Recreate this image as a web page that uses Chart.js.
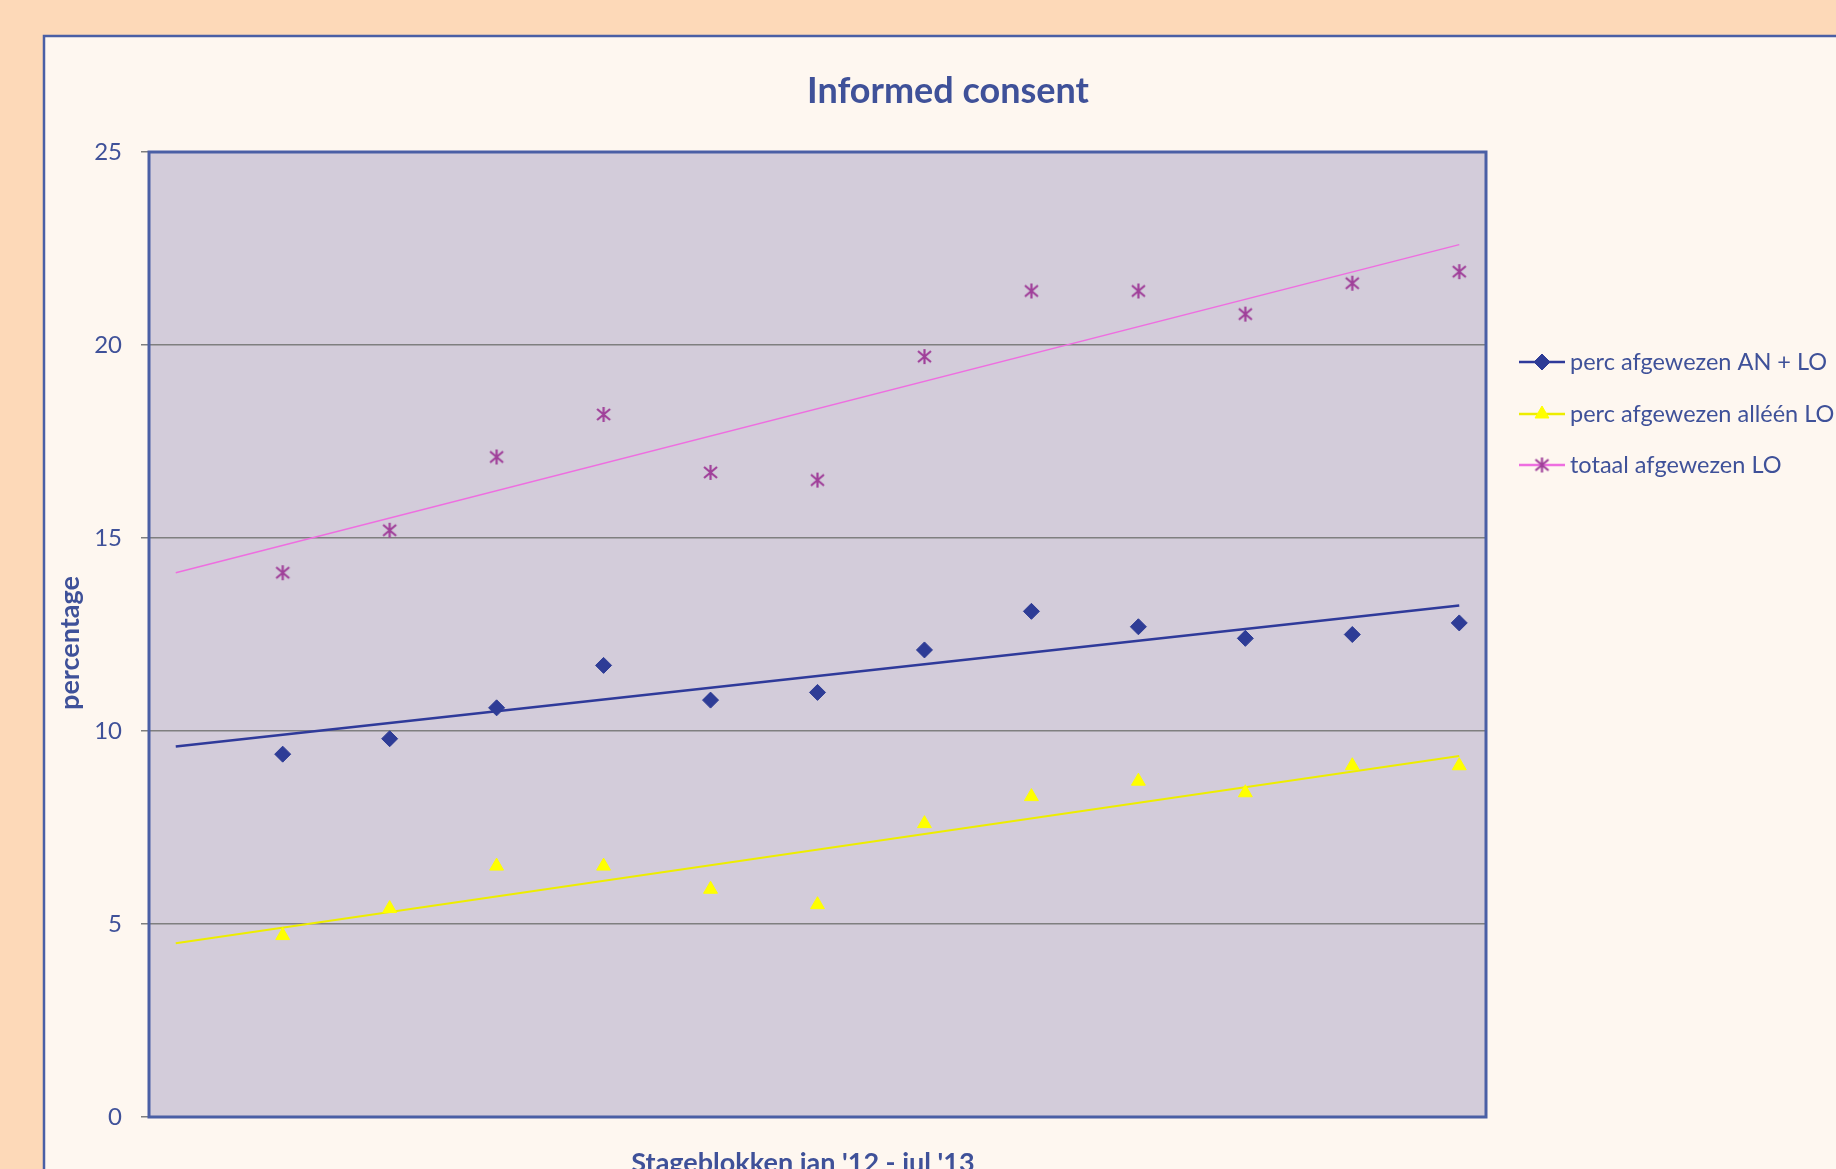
<!DOCTYPE html>
<html>
<head>
<meta charset="utf-8">
<title>Informed consent</title>
<script src="https://cdn.jsdelivr.net/npm/chart.js@4"></script>
<style>
  body { margin: 0; background: #fdd9b8; }
  canvas { display: block; }
</style>
</head>
<body>
<canvas id="myChart" width="1836" height="1169"></canvas>
<script>
// stageblokken 1..12
const blocks = [1, 2, 3, 4, 5, 6, 7, 8, 9, 10, 11, 12];

const anLo = [9.4, 9.8, 10.6, 11.7, 10.8, 11.0, 12.1, 13.1, 12.7, 12.4, 12.5, 12.8];
const alleenLo = [4.7, 5.4, 6.5, 6.5, 5.9, 5.5, 7.6, 8.3, 8.7, 8.4, 9.1, 9.1];
const totaalLo = [14.1, 15.2, 17.1, 18.2, 16.7, 16.5, 19.7, 21.4, 21.4, 20.8, 21.6, 21.9];

// trendline end points (x = 0 and x = 12)
const trendX = [0, 12];
const trendAnLo = [9.6, 13.25];
const trendAlleenLo = [4.5, 9.35];
const trendTotaalLo = [14.1, 22.6];

const labels = ['perc afgewezen AN + LO', 'perc afgewezen alléén LO', 'totaal afgewezen LO'];
const yTicks = [0, 5, 10, 15, 20, 25];

const textColor = '#3f5199';
const font = 'Lato, "Open Sans", sans-serif';

function pts(xs, ys) {
  return xs.map((x, i) => ({x: x, y: ys[i]}));
}

// excel-like asterisk marker
function asterisk(color) {
  const c = document.createElement('canvas');
  c.width = 17; c.height = 17;
  const ctx = c.getContext('2d');
  ctx.strokeStyle = color;
  ctx.lineWidth = 2.2;
  ctx.beginPath();
  ctx.moveTo(8.5, 1); ctx.lineTo(8.5, 16);
  ctx.moveTo(2, 3); ctx.lineTo(15, 14);
  ctx.moveTo(15, 3); ctx.lineTo(2, 14);
  ctx.stroke();
  return c;
}
const starImg = asterisk('#a0409a');

const frame = {
  id: 'frame',
  beforeDraw(chart) {
    const ctx = chart.ctx;
    const a = chart.chartArea;
    ctx.save();
    ctx.fillStyle = '#fdd9b8';
    ctx.fillRect(0, 0, chart.width, chart.height);
    ctx.fillStyle = '#fef7f0';
    ctx.fillRect(43, 35, chart.width, chart.height);
    ctx.strokeStyle = '#4a5fa5';
    ctx.lineWidth = 2.5;
    ctx.beginPath();
    ctx.moveTo(44, chart.height);
    ctx.lineTo(44, 36);
    ctx.lineTo(chart.width, 36);
    ctx.stroke();
    ctx.fillStyle = '#d3ccda';
    ctx.fillRect(a.left, a.top, a.right - a.left, a.bottom - a.top);
    ctx.restore();
  },
  afterDraw(chart) {
    const ctx = chart.ctx;
    const a = chart.chartArea;
    ctx.save();
    ctx.strokeStyle = '#4a5fa5';
    ctx.lineWidth = 3;
    ctx.strokeRect(a.left, a.top, a.right - a.left, a.bottom - a.top);

    ctx.fillStyle = textColor;
    ctx.textAlign = 'center';
    ctx.textBaseline = 'middle';
    ctx.font = 'bold 36px ' + font;
    ctx.fillText('Informed consent', 948, 91);

    ctx.font = 'bold 27px ' + font;
    ctx.fillText("Stageblokken jan '12 - jul '13", 803, 1163);

    ctx.save();
    ctx.translate(70, 643);
    ctx.rotate(-Math.PI / 2);
    ctx.fillText('percentage', 0, 0);
    ctx.restore();

    // legend: line with marker, then label
    const rows = [362, 414, 465];
    ctx.font = '23.5px ' + font;
    ctx.textAlign = 'left';
    for (let i = 0; i < 3; i++) {
      const ds = chart.data.datasets[i];
      const tr = chart.data.datasets[i + 3];
      const y = rows[i];
      ctx.strokeStyle = tr.borderColor;
      ctx.lineWidth = 2.5;
      ctx.beginPath();
      ctx.moveTo(1519, y);
      ctx.lineTo(1565, y);
      ctx.stroke();
      ctx.fillStyle = ds.backgroundColor;
      ctx.strokeStyle = ds.borderColor;
      ctx.lineWidth = 1;
      Chart.helpers.drawPoint(ctx, {pointStyle: ds.pointStyle, radius: ds.pointRadius, rotation: 0, borderWidth: 1}, 1542, y);
      ctx.fillStyle = textColor;
      ctx.fillText(labels[i], 1570, y);
    }
    ctx.restore();
  }
};

const data = {
  datasets: [
    {
      label: labels[0],
      data: pts(blocks, anLo),
      pointStyle: 'rectRot',
      pointRadius: 8,
      backgroundColor: '#2e3c96',
      borderColor: '#2e3c96',
      showLine: false
    },
    {
      label: labels[1],
      data: pts(blocks, alleenLo),
      pointStyle: 'triangle',
      pointRadius: 8,
      backgroundColor: '#ffff00',
      borderColor: '#ffff00',
      showLine: false
    },
    {
      label: labels[2],
      data: pts(blocks, totaalLo),
      pointStyle: starImg,
      pointRadius: 8,
      backgroundColor: '#a0409a',
      borderColor: '#a0409a',
      showLine: false
    },
    {
      label: 'trend AN + LO',
      data: pts(trendX, trendAnLo),
      borderColor: '#2f3a9a',
      borderWidth: 2.5,
      pointRadius: 0,
      showLine: true
    },
    {
      label: 'trend alleen LO',
      data: pts(trendX, trendAlleenLo),
      borderColor: '#eded00',
      borderWidth: 2,
      pointRadius: 0,
      showLine: true
    },
    {
      label: 'trend totaal LO',
      data: pts(trendX, trendTotaalLo),
      borderColor: '#ee6ee0',
      borderWidth: 1.5,
      pointRadius: 0,
      showLine: true
    }
  ]
};

const config = {
  type: 'scatter',
  data: data,
  options: {
    responsive: false,
    animation: false,
    layout: {padding: {left: 0, top: 152, right: 350, bottom: 52}},
    plugins: {
      legend: {display: false},
      title: {display: false},
      tooltip: {enabled: false}
    },
    scales: {
      x: {
        type: 'linear',
        min: -0.25,
        max: 12.25,
        display: false
      },
      y: {
        min: 0,
        max: 25,
        afterFit: s => { s.width = 149; },
        afterBuildTicks: s => { s.ticks = yTicks.map(v => ({value: v})); },
        border: {display: false},
        grid: {
          color: '#7f7f7f',
          lineWidth: 1.5,
          tickLength: 8,
          drawTicks: true
        },
        ticks: {
          color: textColor,
          padding: 19,
          font: {family: font, size: 24}
        }
      }
    }
  },
  plugins: [frame]
};

const myChart = new Chart(document.getElementById('myChart'), config);
</script>
</body>
</html>
